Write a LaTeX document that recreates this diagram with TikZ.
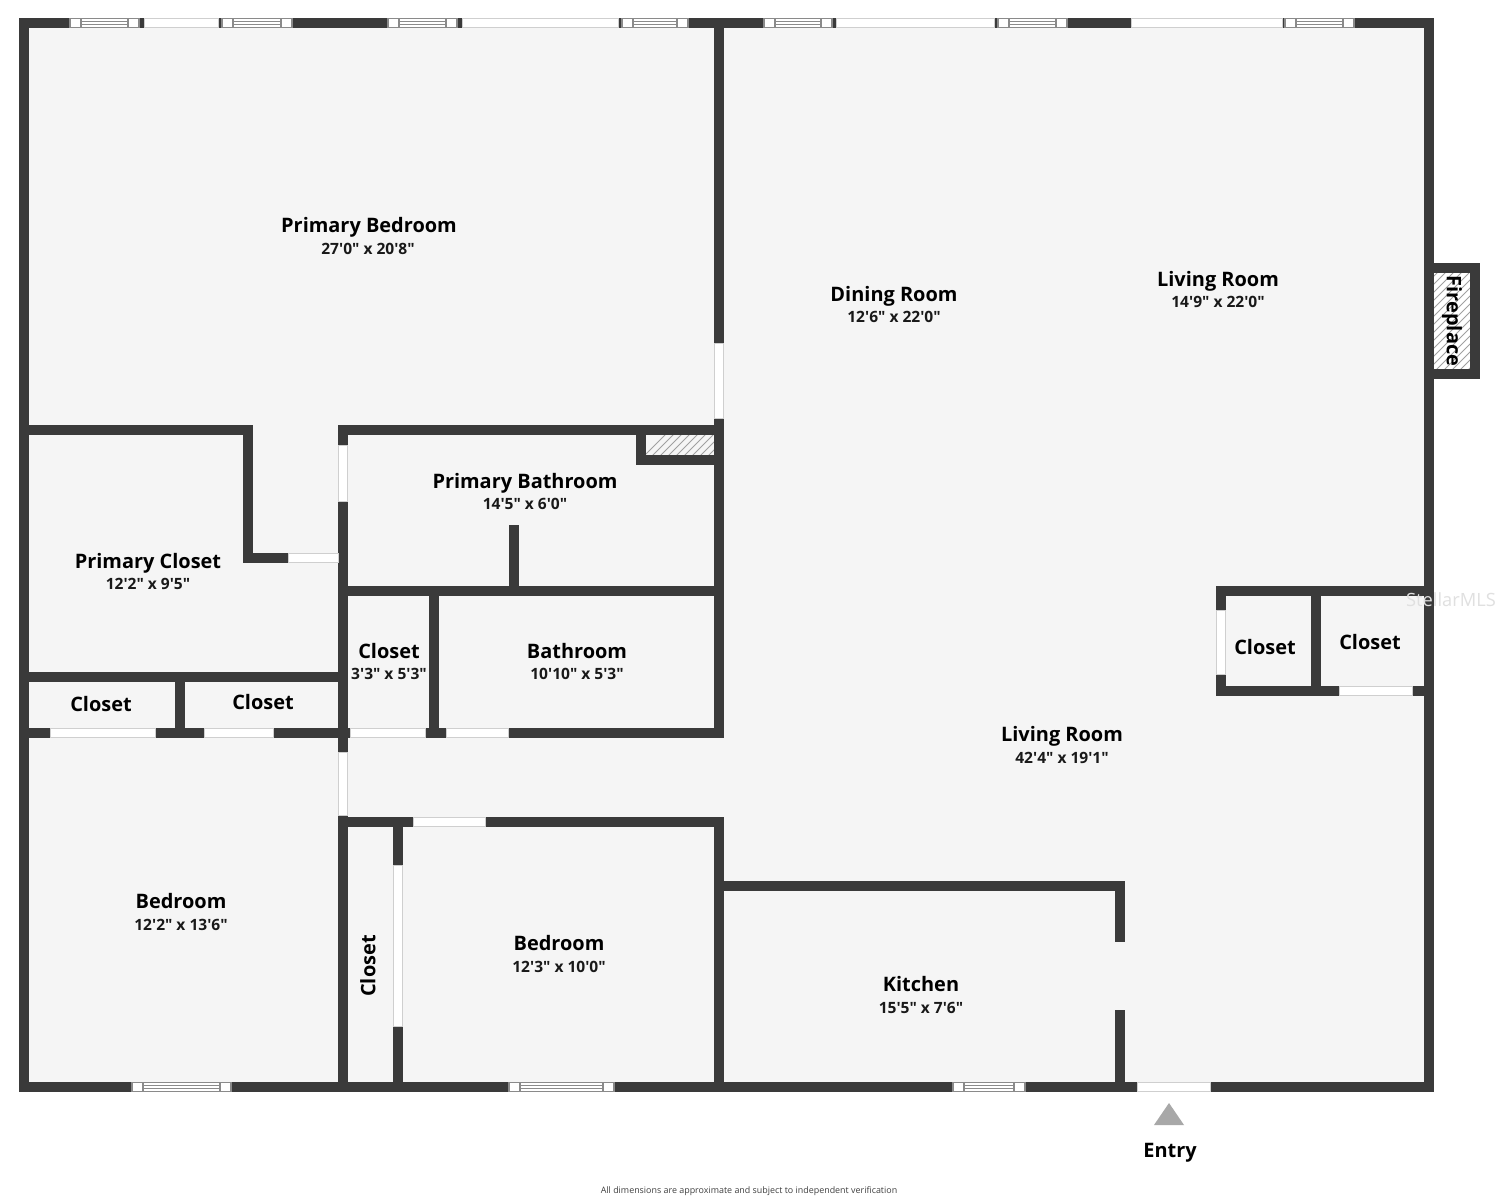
\documentclass[tikz,border=0pt]{standalone}
\usepackage{fontspec}
\setmainfont{Open Sans}[Ligatures=TeXOff]
\definecolor{wallc}{HTML}{3A3A3A}
\definecolor{floorc}{HTML}{F5F5F5}
\definecolor{edgec}{HTML}{CFCFCF}
\definecolor{winc}{HTML}{8A8A8A}
\definecolor{hatchc}{HTML}{A0A0A0}
\definecolor{triac}{HTML}{A8A8A8}
\tikzset{
  wall/.style={draw=wallc,line width=5.15pt,line cap=rect,line join=miter},
  stub/.style={draw=wallc,line width=5.15pt,line cap=butt},
  gap/.style={fill=white,draw=edgec,line width=0.5pt},
  winline/.style={draw=winc,line width=0.6pt},
  hatchline/.style={draw=hatchc,line width=0.55pt},
  roomname/.style={font=\bfseries\fontsize{11.35}{13}\selectfont,text=black,inner sep=0pt},
  roomdim/.style={font=\fontsize{8.85}{11}\selectfont\bfseries,text=black!90,inner sep=0pt},
}
\newcommand{\hgap}[3]{\path[gap] (#1,#3-4.6) rectangle (#2,#3+4.6);}
\newcommand{\vgap}[3]{\path[gap] (#3-4.6,#1) rectangle (#3+4.6,#2);}
\newcommand{\hwin}[3]{%
  \path[gap] (#1,#3-4.6) rectangle (#2,#3+4.6);
  \draw[winline] (#1,#3-4.6) rectangle (#2,#3+4.6);
  \draw[winline] (#1+11,#3-4.6) -- (#1+11,#3+4.6) (#2-11,#3-4.6) -- (#2-11,#3+4.6);
  \draw[winline] (#1+11,#3-1.5) -- (#2-11,#3-1.5) (#1+11,#3+1.5) -- (#2-11,#3+1.5);}
\begin{document}
\begin{tikzpicture}[x=0.02cm,y=-0.02cm]
\useasboundingbox (0,0) rectangle (1499,1200);
\fill[white] (0,0) rectangle (1499,1200);
\fill[floorc] (24,23) rectangle (1429,1087);
% fireplace
\fill[white] (1429,268) rectangle (1475,374);
\begin{scope}
\clip (1434,273) rectangle (1471,370);
\foreach \k in {0,8,...,160} \draw[hatchline] (1424,270+\k) -- (1480,214+\k);
\end{scope}
\begin{scope}
\clip (645,434) rectangle (715,456);
\foreach \k in {0,8,...,112} \draw[hatchline] (630+\k,470) -- (670+\k,430);
\end{scope}
% walls
\draw[wall] (24,23) rectangle (1429,1087);
\draw[wall] (1429,268) -- (1475,268) -- (1475,374) -- (1429,374);
\draw[wall] (719,23) -- (719,733);
\draw[wall] (719,822) -- (719,1087);
\draw[wall] (24,430) -- (248,430) -- (248,558) -- (343,558);
\draw[wall] (343,430) -- (343,1087);
\draw[wall] (343,430) -- (719,430);
\draw[wall] (641,430) -- (641,460) -- (719,460);
\draw[wall] (343,591) -- (719,591);
\draw[stub] (514,525) -- (514,591);
\draw[wall] (434,591) -- (434,733);
\draw[wall] (24,733) -- (719,733);
\draw[wall] (24,677) -- (343,677);
\draw[wall] (180,677) -- (180,733);
\draw[wall] (343,822) -- (719,822);
\draw[wall] (398,822) -- (398,1087);
\draw[wall] (719,886) -- (1120,886);
\draw[wall] (1120,886) -- (1120,1087);
\draw[wall] (1221,691) -- (1221,591) -- (1429,591);
\draw[wall] (1221,691) -- (1429,691);
\draw[wall] (1316,591) -- (1316,691);
% plain openings
\hgap{144}{218}{23}\hgap{462}{618}{23}\hgap{836}{994}{23}\hgap{1131}{1282}{23}
\vgap{343}{418}{719}
\vgap{445}{501}{343}
\hgap{288}{338}{558}
\hgap{50}{155}{733}\hgap{204}{273}{733}\hgap{350}{425}{733}\hgap{446}{508}{733}
\vgap{752}{815}{343}
\hgap{413}{485}{822}
\vgap{865}{1026}{398}
\fill[floorc] (1115,942) rectangle (1125,1010);
\vgap{610}{674}{1221}
\hgap{1339}{1412}{691}
\hgap{1137}{1210}{1087}
% windows
\hwin{70}{139}{23}\hwin{222}{292}{23}\hwin{388}{457}{23}\hwin{622}{688}{23}
\hwin{764}{832}{23}\hwin{998}{1067}{23}\hwin{1285}{1354}{23}
\hwin{132}{231}{1087}\hwin{509}{614}{1087}\hwin{953}{1025}{1087}
% entry
\fill[triac] (1154,1125) -- (1184,1125) -- (1169,1103) -- cycle;
% labels
\node[roomname] (n1) at (369,227) {Primary Bedroom};
\node[roomdim] (d1) at (368,249) {27'0" x 20'8"};
\node[roomname] (n2) at (894,296) {Dining Room};
\node[roomdim] (d2) at (894,317) {12'6" x 22'0"};
\node[roomname] (n3) at (1218,281) {Living Room};
\node[roomdim] (d3) at (1218,302) {14'9" x 22'0"};
\node[roomname] (n4) at (525,483) {Primary Bathroom};
\node[roomdim] (d4) at (525,504) {14'5" x 6'0"};
\node[roomname] (n5) at (148,563) {Primary Closet};
\node[roomdim] (d5) at (148,584) {12'2" x 9'5"};
\node[roomname] (n6) at (389,651) {Closet};
\node[roomdim] (d6) at (389,674) {3'3" x 5'3"};
\node[roomname] (n7) at (577,651) {Bathroom};
\node[roomdim] (d7) at (577,674) {10'10" x 5'3"};
\node[roomname] (n8) at (101,704) {Closet};
\node[roomname] (n9) at (263,702) {Closet};
\node[roomname] (n10) at (1265,647) {Closet};
\node[roomname] (n11) at (1370,642) {Closet};
\node[roomname] (n12) at (1062,736) {Living Room};
\node[roomdim] (d12) at (1062,758) {42'4" x 19'1"};
\node[roomname] (n13) at (181,901) {Bedroom};
\node[roomdim] (d13) at (181,925) {12'2" x 13'6"};
\node[roomname] (n14) at (559,943) {Bedroom};
\node[roomdim] (d14) at (559,967) {12'3" x 10'0"};
\node[roomname] (n15) at (921,984) {Kitchen};
\node[roomdim] (d15) at (921,1008) {15'5" x 7'6"};
\node[roomname,rotate=90] (n16) at (368,966) {Closet};
\node[roomname,rotate=-90] (n17) at (1452,321) {Fireplace};
\node[roomname] (n18) at (1170,1153) {Entry};
\node[font=\fontsize{5.07}{6}\selectfont,text=black!75,inner sep=0pt] (foot) at (749,1191) {All dimensions are approximate and subject to independent verification};
\node[font=\fontsize{10.4}{13}\selectfont,text=black!12,inner sep=0pt] (mark) at (1451,600) {StellarMLS};
\end{tikzpicture}
\end{document}
